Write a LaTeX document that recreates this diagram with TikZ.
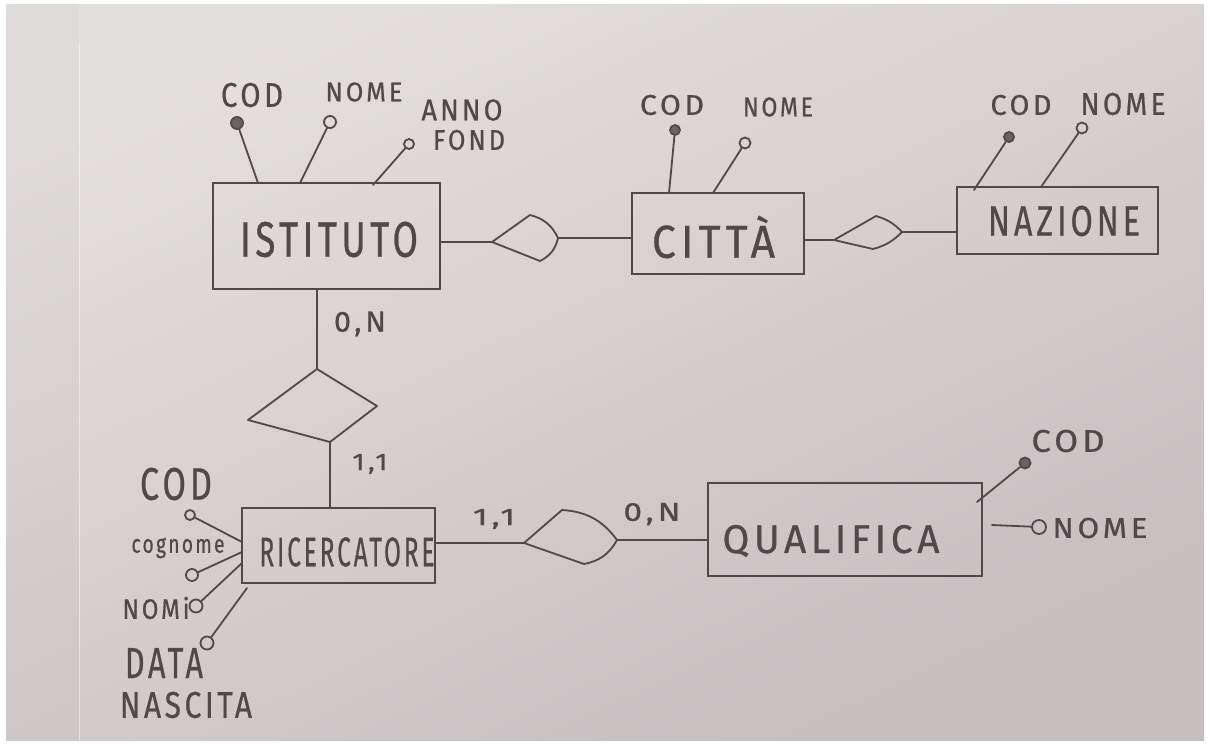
\documentclass[tikz,border=0pt]{standalone}
\usepackage{graphicx}
\usepackage{fontspec}
\setmainfont{Fira Sans}
\usetikzlibrary{calc}
\definecolor{pencil}{HTML}{4F494A}
\definecolor{paperA}{HTML}{E4E0DF}
\definecolor{paperB}{HTML}{C6BDBF}
\newcommand{\hw}[3]{\resizebox{#1pt}{#2pt}{\addfontfeature{LetterSpace=12,FakeBold=0.7}#3}}
\begin{document}
\begin{tikzpicture}[x=1pt,y=-1pt,
  ent/.style={draw=pencil, line width=2pt, rectangle, inner sep=0pt},
  lbl/.style={inner sep=0pt, text=pencil},
  attr/.style={circle, draw=pencil, line width=1.8pt, inner sep=0pt},
  keyattr/.style={attr, fill=pencil!85},
  link/.style={draw=pencil, line width=1.8pt, line cap=round},
  rel/.style={draw=pencil, line width=1.8pt, line cap=round, line join=round}]
\useasboundingbox (0,0) rectangle (1210,744);
% background photo
\fill[white] (0,0) rectangle (1210,744);
\shade[top color=paperA, bottom color=paperB, shading angle=25] (6,4) rectangle (1204,740);
\fill[black, opacity=0.02] (6,4) rectangle (79,740);
\draw[white, opacity=0.45, line width=1pt] (79,740) -- (79,43);

% entities
\node[ent, minimum width=227pt, minimum height=106pt] (ist) at (326.5,236) {};
\node[ent, minimum width=172pt, minimum height=81pt] (cit) at (718,233.5) {};
\node[ent, minimum width=201pt, minimum height=67pt] (naz) at (1057.5,220) {};
\node[ent, minimum width=193pt, minimum height=75pt] (ric) at (338.5,545.5) {};
\node[ent, minimum width=274pt, minimum height=93pt] (qual) at (845,529.5) {};

\node[lbl] (istT) at (329,239.5) {\hw{178}{35}{ISTITUTO}};
\node[lbl] (citT) at (713.5,237) {\hw{123}{42}{CITTÀ}};
\node[lbl] (nazT) at (1064,221) {\hw{152}{30}{NAZIONE}};
\node[lbl] (ricT) at (347,552) {\hw{175}{29}{RICERCATORE}};
\node[lbl] (qualT) at (831,541) {\hw{217}{28}{QUALIFICA}};

% attribute labels
\node[lbl] (istCodT) at (252,95) {\hw{62}{24}{COD}};
\node[lbl] (istNomeT) at (364,92) {\hw{77}{19}{NOME}};
\node[lbl] (istAnnoT) at (462,110) {\hw{81}{21}{ANNO}};
\node[lbl] (istFondT) at (469,140) {\hw{72}{20}{FOND}};
\node[lbl] (citCodT) at (672,105) {\hw{64}{20}{COD}};
\node[lbl] (citNomeT) at (778,107) {\hw{70}{19}{NOME}};
\node[lbl] (nazCodT) at (1021,105) {\hw{61}{20}{COD}};
\node[lbl] (nazNomeT) at (1123,104) {\hw{85}{22}{NOME}};
\node[lbl] (ricCodT) at (176,484) {\hw{72}{32}{COD}};
\node[lbl] (ricCogT) at (178,548) {\hw{93}{15}{cognome}};
\node[lbl] (ricNomiT) at (156,608) {\hw{67}{22}{NOMi}};
\node[lbl] (ricDataT) at (164,663) {\hw{78}{30}{DATA}};
\node[lbl] (ricNascT) at (186,705) {\hw{132}{26}{NASCITA}};
\node[lbl] (qualCodT) at (1068,441) {\hw{73}{22}{COD}};
\node[lbl] (qualNomeT) at (1100,528) {\hw{95}{20}{NOME}};

% attribute circles
\node[keyattr, minimum size=12pt] (istCod) at (237,123) {};
\node[attr, minimum size=12pt] (istNome) at (330,122) {};
\node[attr, minimum size=10pt] (istAnno) at (409,144) {};
\node[keyattr, minimum size=10pt] (citCod) at (675,130) {};
\node[attr, minimum size=11pt] (citNome) at (745,143) {};
\node[keyattr, minimum size=10pt] (nazCod) at (1009,137) {};
\node[attr, minimum size=11pt] (nazNome) at (1082,128) {};
\node[attr, minimum size=10pt] (ricCod) at (190,515) {};
\node[attr, minimum size=12pt] (ricCog) at (192,575) {};
\node[attr, minimum size=13pt] (ricNomi) at (196,606) {};
\node[attr, minimum size=13pt] (ricData) at (207,643) {};
\node[keyattr, minimum size=11pt] (qualCod) at (1025,463) {};
\node[attr, minimum size=14pt] (qualNome) at (1039,527) {};

% attribute links
\coordinate (istCodE) at (258,183);
\coordinate (istNomeE) at (300,183);
\coordinate (istAnnoE) at (373,185);
\coordinate (citCodE) at (669,193);
\coordinate (citNomeE) at (713,193);
\coordinate (nazCodE) at (974,190);
\coordinate (nazNomeE) at (1041,187);
\coordinate (ricCodE) at (242,542);
\coordinate (ricCogE) at (242,552);
\coordinate (ricNomiE) at (242,563);
\coordinate (ricDataE) at (247,588);
\coordinate (qualCodE) at (977,502);
\coordinate (qualNomeE) at (992,525);
\draw[link] (istCod) -- (istCodE);
\draw[link] (istNome) -- (istNomeE);
\draw[link] (istAnno) -- (istAnnoE);
\draw[link] (citCod) -- (citCodE);
\draw[link] (citNome) -- (citNomeE);
\draw[link] (nazCod) -- (nazCodE);
\draw[link] (nazNome) -- (nazNomeE);
\draw[link] (ricCod) -- (ricCodE);
\draw[link] (ricCog) -- (ricCogE);
\draw[link] (ricNomi) -- (ricNomiE);
\draw[link] (ricData) -- (ricDataE);
\draw[link] (qualCod) -- (qualCodE);
\draw[link] (qualNomeE) -- (qualNome);

% relationship ISTITUTO - CITTA
\coordinate (r1w) at (492,242);
\coordinate (r1n) at (530,215);
\coordinate (r1e) at (558,238);
\coordinate (r1s) at (540,261);
\draw[rel] (r1w) -- (r1n) to[bend left=25] (r1e) to[bend left=25] (r1s) -- cycle;
\draw[link] (ist.east |- r1w) -- (r1w);
\draw[link] (r1e) -- (cit.west |- r1e);

% relationship CITTA - NAZIONE
\coordinate (r2w) at (834,240);
\coordinate (r2n) at (876,216);
\coordinate (r2e) at (902,232);
\coordinate (r2s) at (873,249);
\draw[rel] (r2w) -- (r2n) to[bend left=15] (r2e) to[bend left=15] (r2s) -- cycle;
\draw[link] (cit.east |- r2w) -- (r2w);
\draw[link] (r2e) -- (naz.west |- r2e);

% relationship ISTITUTO - RICERCATORE
\coordinate (r3n) at (317,369);
\coordinate (r3e) at (377,406);
\coordinate (r3s) at (330,442);
\coordinate (r3w) at (248,420);
\draw[rel] (r3n) -- (r3e) -- (r3s) -- (r3w) -- cycle;
\draw[link] (r3n |- ist.south) -- (r3n);
\draw[link] (r3s) -- (r3s |- ric.north);
\node[lbl] (c1) at (360,324) {\hw{52}{20}{0,N}};
\node[lbl] (c2) at (370,464) {\hw{35}{16}{1,1}};

% relationship RICERCATORE - QUALIFICA
\coordinate (r4w) at (524,543);
\coordinate (r4n) at (562,510);
\coordinate (r4e) at (617,540);
\coordinate (r4s) at (584,564);
\draw[rel] (r4w) -- (r4n) to[bend left=25] (r4e) to[bend left=25] (r4s) -- cycle;
\draw[link] (ric.east |- r4w) -- (r4w);
\draw[link] (r4e) -- (qual.west |- r4e);
\node[lbl] (c3) at (494,519) {\hw{42}{16}{1,1}};
\node[lbl] (c4) at (652,514) {\hw{57}{18}{0,N}};
\end{tikzpicture}
\end{document}
